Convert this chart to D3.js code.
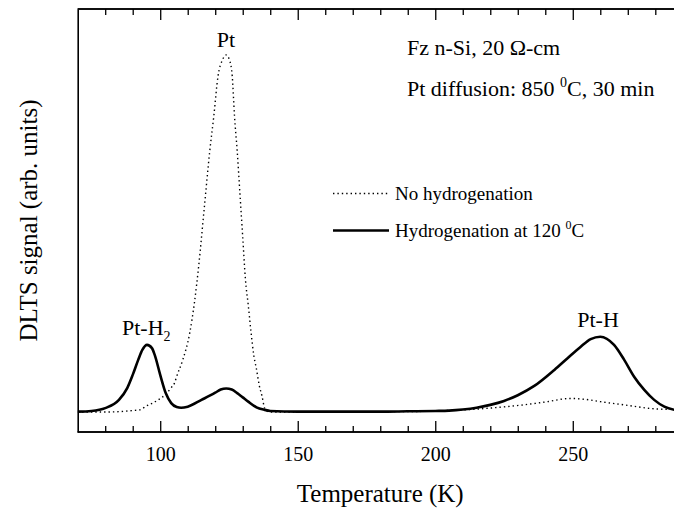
<!DOCTYPE html>
<html>
<head>
<meta charset="utf-8">
<script src="https://cdn.jsdelivr.net/npm/d3@7/dist/d3.min.js"></script>
<style>
  html, body { margin: 0; padding: 0; background: #fff; }
  svg { display: block; }
  text { font-family: "Liberation Serif", "Times New Roman", serif; fill: #000; }
</style>
</head>
<body>
<svg id="chart" width="674" height="514"></svg>
<script>
// ---- data ----
const noHydT = [70, 75, 80, 85, 90, 92.5, 95, 97.5, 99.3, 102, 104, 105.2, 106, 108.2, 110.7, 112.5, 114, 116, 118, 119.5, 121, 122.6, 124, 125.2, 126.2, 127, 128, 129, 130, 131, 132, 133, 134, 135, 136, 137, 138, 139, 140, 150, 160, 170, 180, 190, 200, 210, 214, 220, 232, 240, 249, 255, 260, 268.7, 279.6, 287, 290];
const noHydV = [0, 0, 0, 0.1, 0.4, 0.6, 1.7, 2.6, 3.4, 5.0, 6.8, 8.1, 10, 14.6, 22, 31, 41, 57, 73, 83, 94, 98.6, 100, 98.6, 94, 83, 73, 61, 49, 37, 30, 22.5, 16, 12, 7.5, 4.5, 1, 0.2, 0, 0, 0.1, 0, 0.1, 0.1, 0.3, 0.6, 0.75, 1.1, 2.0, 2.8, 3.8, 3.5, 2.9, 2.0, 0.9, 0.7, 0.6];

const hydT = [70, 75, 80, 85, 88, 90, 92, 93.5, 95.2, 97, 98, 100, 102, 104, 106, 107.6, 110, 115, 120, 122, 124, 126, 128, 130, 132, 135, 138, 140, 150, 160, 170, 180, 190, 200, 205, 210, 215, 220, 225, 230, 236, 243.3, 248, 252.9, 256.5, 260, 265, 268.7, 272.3, 276, 279.6, 283.3, 287, 290];
const hydV = [0.1, 0.3, 1.1, 3.4, 6.7, 10.4, 14.6, 17.4, 18.8, 17.9, 16, 10.4, 5.3, 2.5, 1.4, 1.2, 1.5, 3.4, 5.4, 6.3, 6.6, 6.3, 5.3, 4.1, 2.9, 1.3, 0.6, 0.3, 0.1, 0.1, 0.1, 0.1, 0.2, 0.3, 0.4, 0.7, 1.2, 2.0, 3.1, 4.7, 7.3, 11.8, 15.0, 18.3, 20.4, 21.1, 18.8, 14.6, 9.9, 6.2, 3.4, 1.5, 0.6, 0.3];

const xMajorTicks = [100, 150, 200, 250];
const xMinorTicks = [80, 90, 110, 120, 130, 140, 160, 170, 180, 190, 210, 220, 230, 240, 260, 270, 280];
const xDomain = [70, 290];
const yDomain = [-5.6, 112.9];

const legendLabels = ["No hydrogenation", "Hydrogenation at 120"];

// ---- layout ----
const svg = d3.select("#chart");
const L = 77.7, R = 682.8, T = 9, B = 432;

const x = d3.scaleLinear().domain(xDomain).range([L, R]);
const y = d3.scaleLinear().domain(yDomain).range([B, T]);

// axes: bottom
const gB = svg.append("g").attr("transform", `translate(0,${B})`);
gB.call(d3.axisBottom(x).tickValues(xMajorTicks).tickSize(-11).tickPadding(15).tickFormat(d3.format("d")));
const gBm = svg.append("g").attr("transform", `translate(0,${B})`);
gBm.call(d3.axisBottom(x).tickValues(xMinorTicks).tickSize(-6).tickFormat(""));
// top
const gT = svg.append("g").attr("transform", `translate(0,${T})`);
gT.call(d3.axisTop(x).tickValues(xMajorTicks).tickSize(-11).tickFormat(""));
const gTm = svg.append("g").attr("transform", `translate(0,${T})`);
gTm.call(d3.axisTop(x).tickValues(xMinorTicks).tickSize(-6).tickFormat(""));
// left / right (no ticks)
const gL = svg.append("g").attr("transform", `translate(${L},0)`);
gL.call(d3.axisLeft(y).tickValues([]).tickSizeOuter(0));
const gR = svg.append("g").attr("transform", `translate(${R},0)`);
gR.call(d3.axisRight(y).tickValues([]).tickSizeOuter(0));

svg.selectAll(".domain").attr("stroke", "#000").attr("stroke-width", 1.6);
svg.selectAll(".tick line").attr("stroke", "#000").attr("stroke-width", 1.3);
gB.selectAll(".tick text").style("font-family", '"Liberation Serif", serif').style("font-size", "20px").attr("fill", "#000");
[gB, gBm, gT, gTm].forEach(g => g.select(".domain").attr("d", `M${L},0H${R}`));

// lines
const line = d3.line().x(d => x(d[0])).y(d => y(d[1])).curve(d3.curveMonotoneX);
svg.append("clipPath").attr("id", "plotclip").append("rect")
  .attr("x", L).attr("y", T).attr("width", R - L).attr("height", B - T);

svg.append("path")
  .datum(noHydT.map((t, i) => [t, noHydV[i]]))
  .attr("clip-path", "url(#plotclip)")
  .attr("d", line).attr("fill", "none").attr("stroke", "#000")
  .attr("stroke-width", 1.4).attr("stroke-dasharray", "1.4,3");

svg.append("path")
  .datum(hydT.map((t, i) => [t, hydV[i]]))
  .attr("clip-path", "url(#plotclip)")
  .attr("d", line).attr("fill", "none").attr("stroke", "#000")
  .attr("stroke-width", 2.6);

// legend
const lg = svg.append("g");
lg.append("line").attr("x1", 333).attr("x2", 389).attr("y1", 193.5).attr("y2", 193.5)
  .attr("stroke", "#000").attr("stroke-width", 1.4).attr("stroke-dasharray", "1.4,3");
lg.append("text").attr("x", 395).attr("y", 200).style("font-size", "19px").text(legendLabels[0]);
lg.append("line").attr("x1", 333).attr("x2", 389).attr("y1", 230.5).attr("y2", 230.5)
  .attr("stroke", "#000").attr("stroke-width", 2.6);
const lt2 = lg.append("text").attr("x", 395).attr("y", 237).style("font-size", "19px");
lt2.append("tspan").text(legendLabels[1] + " ");
lt2.append("tspan").attr("dy", -8).style("font-size", "12px").text("0");
lt2.append("tspan").attr("dy", 8).text("C");

// annotations
svg.append("text").attr("x", 226).attr("y", 47).attr("text-anchor", "middle").style("font-size", "22px").text("Pt");
svg.append("text").attr("x", 598).attr("y", 327).attr("text-anchor", "middle").style("font-size", "22px").text("Pt-H");
const ph2 = svg.append("text").attr("x", 122).attr("y", 335).style("font-size", "22px");
ph2.append("tspan").text("Pt-H");
ph2.append("tspan").attr("dy", 6).style("font-size", "14px").text("2");

svg.append("text").attr("x", 407).attr("y", 55).style("font-size", "22px").text("Fz n-Si, 20 \u03A9-cm");
const pd = svg.append("text").attr("x", 407).attr("y", 96).style("font-size", "22px");
pd.append("tspan").text("Pt diffusion: 850 ");
pd.append("tspan").attr("dy", -9).style("font-size", "14px").text("0");
pd.append("tspan").attr("dy", 9).text("C, 30 min");

// axis titles
svg.append("text").attr("x", (L + R) / 2).attr("y", 502).attr("text-anchor", "middle")
  .style("font-size", "25px").text("Temperature (K)");
svg.append("text").attr("transform", `translate(37,${(T + B) / 2}) rotate(-90)`)
  .attr("text-anchor", "middle").style("font-size", "25px").text("DLTS signal (arb. units)");
</script>
</body>
</html>
